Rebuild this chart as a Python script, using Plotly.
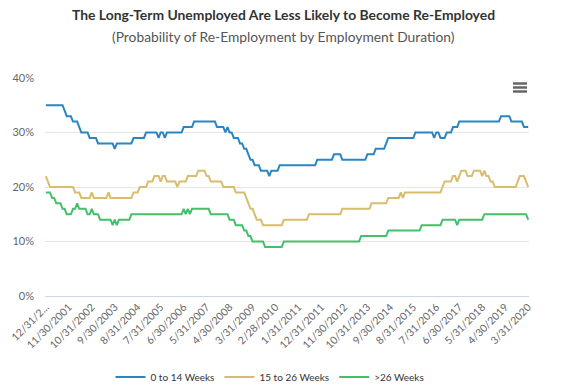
import pandas as pd
import plotly.graph_objects as go

# ---- Data -------------------------------------------------------------
months = pd.date_range("2000-12-31", periods=232, freq="ME")
categories = [f"{d.month}/{d.day}/{d.year}" for d in months]

tick_labels = [
    "12/31/2...", "11/30/2001", "10/31/2002", "9/30/2003", "8/31/2004",
    "7/31/2005", "6/30/2006", "5/31/2007", "4/30/2008", "3/31/2009",
    "2/28/2010", "1/31/2011", "12/31/2011", "11/30/2012", "10/31/2013",
    "9/30/2014", "8/31/2015", "7/31/2016", "6/30/2017", "5/31/2018",
    "4/30/2019", "3/31/2020",
]
tick_categories = categories[::11]

weeks_0_14 = [
    35, 35, 35, 35, 35, 35, 35, 35, 35,
    34,
    33, 33, 33,
    32, 32, 32,
    31,
    30, 30, 30, 30,
    29, 29, 29, 29,
    28, 28, 28, 28, 28, 28, 28, 28,
    27,
    28, 28, 28, 28, 28, 28, 28, 28,
    29, 29, 29, 29, 29, 29,
    30, 30, 30, 30, 30, 30,
    29,
    30, 30,
    29,
    30, 30, 30, 30, 30, 30, 30, 30,
    31, 31, 31, 31, 31,
    32, 32, 32, 32, 32, 32, 32, 32, 32, 32, 32,
    31, 31, 31, 31,
    30, 31, 30, 30,
    29, 29, 29,
    28, 28, 27, 27, 26, 25, 25,
    24, 24, 24, 23, 23, 23, 23, 22, 23, 23, 23, 23,
    24, 24, 24, 24, 24, 24, 24, 24, 24, 24, 24, 24, 24, 24, 24, 24, 24, 24,
    25, 25, 25, 25, 25, 25, 25, 25,
    26, 26, 26, 26,
    25, 25, 25, 25, 25, 25, 25, 25, 25, 25, 25, 25,
    26, 26, 26, 26,
    27, 27, 27, 27, 27,
    28,
    29, 29, 29, 29, 29, 29, 29, 29, 29, 29, 29, 29, 29,
    30, 30, 30, 30, 30, 30, 30, 30, 30,
    29, 30, 30, 29, 29, 29, 30, 30, 30,
    31, 31, 31,
    32, 32, 32, 32, 32, 32, 32, 32, 32, 32, 32, 32, 32, 32, 32, 32, 32, 32, 32, 32,
    33, 33, 33, 33, 33,
    32, 32, 32, 32, 32, 32,
    31, 31, 31,
]

weeks_15_26 = [
    22,
    21,
    20, 20, 20, 20, 20, 20, 20, 20, 20, 20, 20, 20,
    19, 19, 19,
    18, 18, 18, 18, 18,
    19,
    18, 18, 18, 18, 18, 18, 18,
    19,
    18, 18, 18, 18, 18, 18, 18, 18, 18, 18, 18,
    19, 19, 19,
    20, 20, 20, 20,
    21, 21, 21,
    22, 22, 22,
    21,
    22, 22,
    21, 21, 21, 21, 21,
    20,
    21, 21, 21, 21,
    22, 22, 22, 22, 22,
    23, 23, 23, 23,
    22, 22,
    21, 21, 21, 21, 21, 21,
    20, 20, 20, 20, 20, 20,
    19, 19, 19, 19, 19,
    18, 17, 16, 16, 15, 14, 14, 14,
    13, 13, 13, 13, 13, 13, 13, 13, 13, 13,
    14, 14, 14, 14, 14, 14, 14, 14, 14, 14, 14, 14,
    15, 15, 15, 15, 15, 15, 15, 15, 15, 15, 15, 15, 15, 15, 15, 15,
    16, 16, 16, 16, 16, 16, 16, 16, 16, 16, 16, 16, 16, 16,
    17, 17, 17, 17, 17, 17, 17, 17,
    18, 18, 18, 18, 18, 18,
    19, 18,
    19, 19, 19, 19, 19, 19, 19, 19, 19, 19, 19, 19, 19, 19, 19, 19, 19, 19,
    20,
    21, 21, 21, 21,
    22, 22, 21, 22,
    23, 23, 23,
    22, 22, 22,
    23, 23, 23, 23,
    22, 23, 22, 22,
    21, 21,
    20, 20, 20, 20, 20, 20, 20, 20, 20, 20, 20,
    21, 22, 22, 22, 21, 20,
]

weeks_over_26 = [
    19, 19, 19,
    18, 18,
    17, 17, 17,
    16, 16,
    15, 15, 15,
    16, 16,
    17,
    16, 16, 16, 16,
    15, 15,
    16,
    15, 15, 15,
    14, 14, 14, 14, 14, 14,
    13, 14, 13,
    14, 14, 14, 14, 14, 14,
    15, 15, 15, 15, 15, 15, 15, 15, 15, 15, 15, 15, 15, 15, 15, 15, 15, 15, 15, 15, 15, 15, 15, 15, 15,
    16, 15, 16, 15,
    16, 16, 16, 16, 16, 16, 16, 16, 16,
    15, 15, 15, 15, 15, 15, 15, 15, 15,
    14, 14, 14,
    13, 13, 13, 13,
    12, 12,
    11, 11,
    10, 10, 10, 10, 10, 10,
    9, 9, 9, 9, 9, 9, 9, 9, 9,
    10, 10, 10, 10, 10, 10, 10, 10, 10, 10, 10, 10, 10, 10, 10, 10, 10, 10, 10, 10,
    10, 10, 10, 10, 10, 10, 10, 10, 10, 10, 10, 10, 10, 10, 10, 10, 10,
    11, 11, 11, 11, 11, 11, 11, 11, 11, 11, 11, 11, 11,
    12, 12, 12, 12, 12, 12, 12, 12, 12, 12, 12, 12, 12, 12, 12, 12,
    13, 13, 13, 13, 13, 13, 13, 13, 13, 13,
    14, 14, 14, 14, 14, 14, 14,
    13,
    14, 14, 14, 14, 14, 14, 14, 14, 14, 14, 14, 14,
    15, 15, 15, 15, 15, 15, 15, 15, 15, 15, 15, 15, 15, 15, 15, 15, 15, 15, 15, 15, 15,
    14,
]

series_names = ["0 to 14 Weeks", "15 to 26 Weeks", ">26 Weeks"]
series_values = [weeks_0_14, weeks_15_26, weeks_over_26]
series_colors = ["#2a86c3", "#d8bd6e", "#46bf6a"]

for name, vals in zip(series_names, series_values):
    if len(vals) != len(categories):
        raise ValueError(f"{name}: {len(vals)} values vs {len(categories)} categories")

# ---- Figure -----------------------------------------------------------
FONT = "Lato"
fig = go.Figure()
for name, vals, col in zip(series_names, series_values, series_colors):
    fig.add_trace(go.Scatter(
        x=categories, y=vals, name=name, mode="lines",
        line=dict(color=col, width=2),
    ))

W, H = 569, 389
PL, PR, PT, PB = 45, 529, 78, 296      # plot area in pixels
L, R, T, B = PL, W - PR, PT, H - PB
ph = PB - PT
pw = PR - PL

def py(p):  # pixel y -> paper y
    return (PB - p) / ph

def px(p):  # pixel x -> paper x
    return (p - PL) / pw

fig.update_layout(
    width=W, height=H,
    margin=dict(l=L, r=R, t=T, b=B, autoexpand=False),
    paper_bgcolor="white", plot_bgcolor="white",
    font=dict(family=FONT, color="#666666"),
    annotations=[
        dict(
            text="<b>The Long-Term Unemployed Are Less Likely to Become Re-Employed</b>",
            xref="paper", yref="paper", x=px(283), y=py(14),
            xanchor="center", yanchor="middle", showarrow=False,
            font=dict(family=FONT, size=13.9, color="#333333"),
        ),
        dict(
            text="(Probability of Re-Employment by Employment Duration)",
            xref="paper", yref="paper", x=px(283), y=py(37),
            xanchor="center", yanchor="middle", showarrow=False,
            font=dict(family=FONT, size=13.8, color="#555555"),
        ),
    ],
    xaxis=dict(
        type="category", automargin=False,
        range=[-0.4, len(categories) - 1 + 0.4],
        tickmode="array", tickvals=tick_categories, ticktext=tick_labels,
        tickangle=-45, tickfont=dict(size=10.5, color="#666666"),
        showgrid=False, showline=True, linecolor="#ccd6eb", linewidth=1,
        ticks="", zeroline=False,
    ),
    yaxis=dict(
        range=[0, 40], tickmode="array", automargin=False,
        tickvals=[0, 10, 20, 30, 40],
        ticktext=["0%", "10%", "20%", "30%", "40%"],
        tickfont=dict(size=11, color="#666666"),
        showgrid=True, gridcolor="#e6e6e6", gridwidth=1,
        zeroline=False, showline=False, ticklabelstandoff=10,
    ),
    legend=dict(
        orientation="h", x=px(270), xanchor="center",
        y=py(377), yanchor="middle",
        font=dict(family=FONT, size=10, color="#333333"),
        itemwidth=30,
    ),
    shapes=[
        dict(type="line", xref="paper", yref="paper",
             x0=px(513), x1=px(527), y0=py(yy), y1=py(yy),
             line=dict(color="#666666", width=2.5))
        for yy in (83.5, 87.5, 91.5)
    ],
)

fig.write_html(
    "out.html",
    config={"displayModeBar": False},
    post_script="document.body.style.margin='0';document.body.style.padding='0';",
)
